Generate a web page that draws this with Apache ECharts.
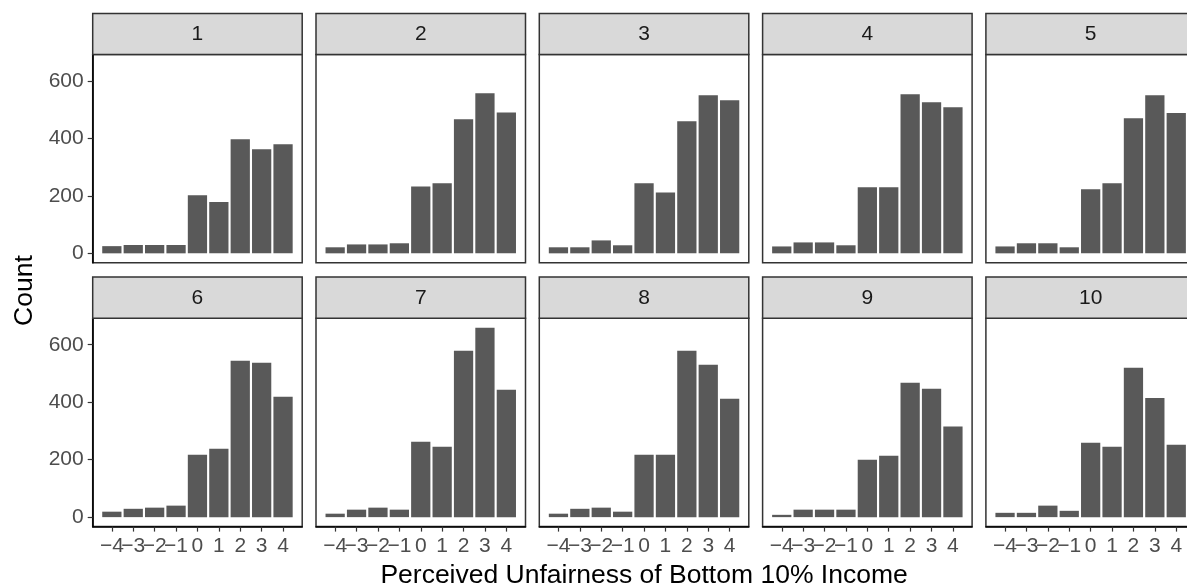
<!DOCTYPE html>
<html>
<head>
<meta charset="utf-8">
<script src="https://cdn.jsdelivr.net/npm/echarts@6/dist/echarts.min.js"></script>
<style>
html,body{margin:0;padding:0;background:#fff;}
#chart{width:1187px;height:588px;}
</style>
</head>
<body>
<div id="chart"></div>
<script>
// ---- data ----
const categories = [-4, -3, -2, -1, 0, 1, 2, 3, 4];
const panelLabels = ["1", "2", "3", "4", "5", "6", "7", "8", "9", "10"];
const panel1  = [25, 29, 29, 29, 202, 179, 397, 362, 380];
const panel2  = [21, 31, 31, 35, 233, 244, 467, 557, 490];
const panel3  = [21, 21, 45, 28, 244, 212, 460, 550, 533];
const panel4  = [24, 38, 38, 28, 230, 230, 554, 526, 508];
const panel5  = [24, 35, 35, 21, 223, 244, 470, 550, 488];
const panel6  = [19, 29, 33, 40, 217, 238, 544, 537, 419];
const panel7  = [12, 26, 33, 26, 262, 245, 579, 659, 443];
const panel8  = [12, 29, 33, 19, 217, 217, 579, 530, 412];
const panel9  = [8, 26, 26, 26, 200, 214, 468, 447, 315];
const panel10 = [15, 15, 40, 22, 259, 245, 520, 415, 252];
const yTicks = [0, 200, 400, 600];
const xTitle = "Perceived Unfairness of Bottom 10% Income";
const yTitle = "Count";

const panels = [panel1, panel2, panel3, panel4, panel5, panel6, panel7, panel8, panel9, panel10];

// ---- layout ----
const FONT = "'Liberation Sans', Arial, sans-serif";
const colLeft0 = 92.7, colPitch = 223.3, panelW = 209.5;
const rowTop = [54.5, 318.3], panelH = 208.3;
const stripTop = [13.5, 277.0], stripH = [41, 41.3];

const allMax = Math.max(...panels.map(p => Math.max(...p)));
const yMax = allMax * 1.05, yMin = -allMax * 0.05;
const xHalf = 4.45 + 0.445;
const barPx = 0.9 * panelW / (2 * xHalf);

// labels split in two interleaved sets so the library does not drop touching labels
const evenTicks = categories.filter((c, k) => k % 2 === 0);
const oddTicks = categories.filter((c, k) => k % 2 === 1);
const fmt = v => (v < 0 ? '\u2212' + (-v) : String(v));

const grids = [], xAxes = [], yAxes = [], series = [], graphics = [];
const extraX = [];
panels.forEach((vals, i) => {
  const row = Math.floor(i / 5), col = i % 5;
  const left = colLeft0 + col * colPitch;
  grids.push({
    left: left, top: rowTop[row], width: panelW, height: panelH,
    show: true, borderColor: '#333333', borderWidth: 1.5, backgroundColor: '#ffffff',
    containLabel: false, outerBoundsMode: 'none'
  });
  const bottomRow = row === 1;
  const labelStyle = {color: '#4D4D4D', fontSize: 21, fontFamily: FONT, margin: 9, formatter: fmt,
    showMinLabel: true, showMaxLabel: true};
  xAxes.push({
    type: 'value', gridIndex: i, min: -xHalf, max: xHalf, position: 'bottom',
    splitLine: {show: false},
    axisLine: {show: bottomRow, onZero: false, lineStyle: {color: '#000', width: 1.6}},
    axisTick: {show: bottomRow, customValues: categories, length: 5, lineStyle: {color: '#333333', width: 1.2}},
    axisLabel: Object.assign({show: bottomRow, customValues: evenTicks}, labelStyle)
  });
  if (bottomRow) {
    extraX.push({
      type: 'value', gridIndex: i, min: -xHalf, max: xHalf, position: 'bottom', offset: 0,
      splitLine: {show: false},
      axisLine: {show: false, onZero: false},
      axisTick: {show: false},
      axisLabel: Object.assign({show: true, customValues: oddTicks}, labelStyle)
    });
  }
  const leftCol = col === 0;
  yAxes.push({
    type: 'value', gridIndex: i, min: yMin, max: yMax,
    splitLine: {show: false},
    axisLine: {show: leftCol, onZero: false, lineStyle: {color: '#000', width: 1.6}},
    axisTick: {show: leftCol, customValues: yTicks, length: 5, lineStyle: {color: '#333333', width: 1.2}},
    axisLabel: {show: leftCol, customValues: yTicks, margin: 9, showMinLabel: true, showMaxLabel: true,
      color: '#4D4D4D', fontSize: 21, fontFamily: FONT}
  });
  series.push({
    type: 'bar', xAxisIndex: i, yAxisIndex: i,
    data: categories.map((c, k) => [c, vals[k]]),
    barWidth: barPx,
    itemStyle: {color: '#595959'},
    silent: true, animation: false
  });
  graphics.push({
    type: 'rect',
    shape: {x: left, y: stripTop[row], width: panelW, height: stripH[row]},
    style: {fill: '#D9D9D9', stroke: '#333333', lineWidth: 1.5},
    z: 10
  });
  graphics.push({
    type: 'text',
    x: left + panelW / 2, y: stripTop[row] + stripH[row] / 2 + 0.5,
    style: {text: panelLabels[i], fill: '#1A1A1A', font: '21px ' + FONT, textAlign: 'center', textVerticalAlign: 'middle'},
    z: 11
  });
});

graphics.push({
  type: 'text', x: colLeft0 + (4 * colPitch + panelW) / 2, y: 576,
  style: {text: xTitle, fill: '#000', font: '26.5px ' + FONT, textAlign: 'center', textVerticalAlign: 'middle'}
});
graphics.push({
  type: 'text', x: 25, y: (rowTop[0] + rowTop[1] + panelH) / 2, rotation: Math.PI / 2,
  style: {text: yTitle, fill: '#000', font: '26.5px ' + FONT, textAlign: 'center', textVerticalAlign: 'middle'}
});

const chart = echarts.init(document.getElementById('chart'), null, {renderer: 'canvas'});
chart.setOption({
  animation: false,
  backgroundColor: '#ffffff',
  grid: grids, xAxis: xAxes.concat(extraX), yAxis: yAxes, series: series,
  graphic: graphics
});
</script>
</body>
</html>
